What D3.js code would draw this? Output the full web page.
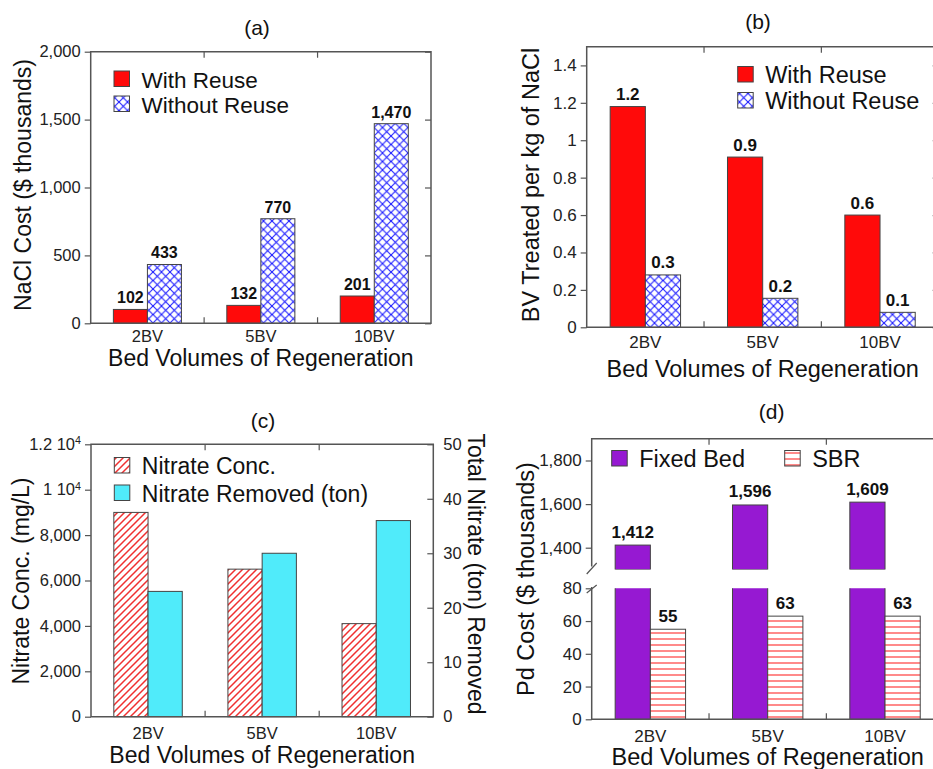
<!DOCTYPE html>
<html>
<head>
<meta charset="utf-8">
<script src="https://cdn.jsdelivr.net/npm/d3@7"></script>
<style>
  body { margin: 0; background: #fff; }
  svg { display: block; font-family: "Liberation Sans", Arial, sans-serif; }
  .axis path.domain { display: none; }
  .axis line { stroke: #555; stroke-width: 1.2; }
  .axis text { fill: #222; }
</style>
</head>
<body>
<svg id="chart" width="933" height="769"></svg>
<script>
const categories = ["2BV", "5BV", "10BV"];

// (a) NaCl cost, $ thousands
const naclWithReuse = [102, 132, 201];
const naclWithoutReuse = [433, 770, 1470];
const naclTicks = [0, 500, 1000, 1500, 2000];

// (b) BV treated per kg of NaCl
const bvWithReuse = [1.18, 0.91, 0.6];
const bvWithoutReuse = [0.28, 0.155, 0.08];
const bvTicks = [0, 0.2, 0.4, 0.6, 0.8, 1, 1.2, 1.4];

// (c) nitrate concentration (mg/L) and nitrate removed (ton)
const nitrateConc = [9000, 6500, 4100];
const nitrateRemoved = [23, 30, 36];
const concTicks = [0, 2000, 4000, 6000, 8000, 10000, 12000];
const removedTicks = [0, 10, 20, 30, 40, 50];

// (d) Pd cost, $ thousands (broken axis)
const pdFixedBed = [1412, 1596, 1609];
const pdSBR = [55, 63, 63];
const pdUpperTicks = [1400, 1600, 1800];
const pdLowerTicks = [0, 20, 40, 60, 80];

const RED = "#ff0a0a", CYAN = "#50ebfa", PURPLE = "#9619d2";
const svg = d3.select("#chart");
const defs = svg.append("defs");

// fill patterns
let p = defs.append("pattern").attr("id", "xhatch").attr("patternUnits", "userSpaceOnUse")
  .attr("width", 8.5).attr("height", 8.5);
p.append("rect").attr("width", 8.5).attr("height", 8.5).attr("fill", "#fff");
p.append("path").attr("d", "M0,0L8.5,8.5M8.5,0L0,8.5").attr("stroke", "#1a1aff").attr("stroke-width", 1.1);

p = defs.append("pattern").attr("id", "diag").attr("patternUnits", "userSpaceOnUse")
  .attr("width", 7).attr("height", 7);
p.append("rect").attr("width", 7).attr("height", 7).attr("fill", "#fff");
p.append("path").attr("d", "M0,7L7,0M-1,1L1,-1M6,8L8,6").attr("stroke", "#f03030").attr("stroke-width", 1.5);

p = defs.append("pattern").attr("id", "hlines").attr("patternUnits", "userSpaceOnUse")
  .attr("width", 8).attr("height", 6);
p.append("rect").attr("width", 8).attr("height", 6).attr("fill", "#fff");
p.append("line").attr("x1", 0).attr("x2", 8).attr("y1", 3).attr("y2", 3)
  .attr("stroke", "#ff2a2a").attr("stroke-width", 1.1);

function band(left, step) {
  return d3.scaleBand().domain(categories).range([left, left + step * categories.length]);
}

function bars(g, x, y, values, offset, fill, base) {
  const bw = x.bandwidth();
  g.append("g").selectAll("rect").data(values).join("rect")
    .attr("x", (d, i) => x(categories[i]) + bw * offset)
    .attr("width", bw * 0.3)
    .attr("y", d => y(d))
    .attr("height", d => y(base) - y(d))
    .attr("fill", fill)
    .attr("stroke", "#444").attr("stroke-width", 1);
}

function valueLabels(g, x, y, values, offset, fmt, size, gap) {
  const bw = x.bandwidth();
  g.append("g").selectAll("text").data(values).join("text")
    .attr("x", (d, i) => x(categories[i]) + bw * (offset + 0.15))
    .attr("y", d => y(d) - gap)
    .attr("text-anchor", "middle")
    .attr("font-size", size).attr("font-weight", "bold").attr("fill", "#111")
    .text(fmt);
}

function frame(g, x0, x1, y0, y1) {
  g.append("path")
    .attr("d", `M${x0},${y0}H${x1}V${y1}H${x0}Z`)
    .attr("fill", "none").attr("stroke", "#555").attr("stroke-width", 1.5);
}

function catTicks(g, x, yTop, yBot) {
  const b = categories.slice(1).map(c => x(c));
  g.append("g").selectAll("path").data(b).join("path")
    .attr("d", d => `M${d},${yTop}v6M${d},${yBot}v-6`)
    .attr("stroke", "#555").attr("stroke-width", 1.2);
}

function xLabels(g, x, baseline, size, labelBaseline, labelSize) {
  g.append("g").selectAll("text").data(categories).join("text")
    .attr("x", d => x(d) + x.bandwidth() / 2)
    .attr("y", baseline)
    .attr("text-anchor", "middle").attr("font-size", size).attr("fill", "#222")
    .text(d => d);
  const r = x.range();
  g.append("text")
    .attr("x", (r[0] + r[1]) / 2).attr("y", labelBaseline)
    .attr("text-anchor", "middle").attr("font-size", labelSize).attr("fill", "#111")
    .text("Bed Volumes of Regeneration");
}

function yLabel(g, cx, cy, text, size, angle) {
  g.append("text")
    .attr("transform", `translate(${cx},${cy}) rotate(${angle})`)
    .attr("text-anchor", "middle").attr("dy", "0.35em")
    .attr("font-size", size).attr("fill", "#111")
    .text(text);
}

function title(g, cx, cy, text) {
  g.append("text").attr("x", cx).attr("y", cy).attr("dy", "0.35em")
    .attr("text-anchor", "middle").attr("font-size", 21).attr("fill", "#111")
    .text(text);
}

function legend(g, items, size) {
  items.forEach(it => {
    g.append("rect").attr("x", it.x).attr("y", it.y).attr("width", 15.5).attr("height", 15.5)
      .attr("fill", it.fill).attr("stroke", "#444").attr("stroke-width", 1);
    g.append("text").attr("x", it.x + 27.5).attr("y", it.y + 16.5)
      .attr("font-size", size).attr("fill", "#111").text(it.label);
  });
}

function leftAxis(g, y, x0, ticks, fmt, size) {
  g.append("g").attr("class", "axis").attr("transform", `translate(${x0},0)`)
    .call(d3.axisLeft(y).tickValues(ticks).tickFormat(fmt).tickSize(6).tickPadding(4))
    .selectAll("text").attr("font-size", size).attr("font-family", null);
}

function mirrorTicks(g, y, x1, ticks) {
  g.append("g").attr("class", "axis").attr("transform", `translate(${x1},0)`)
    .call(d3.axisLeft(y).tickValues(ticks).tickFormat("").tickSize(6));
}

// ---------- (a) ----------
{
  const g = svg.append("g");
  const x = band(90.7, 113.43);
  const y = d3.scaleLinear().domain([0, 2000]).range([323.3, 51.7]);
  bars(g, x, y, naclWithReuse, 0.2, RED, 0);
  bars(g, x, y, naclWithoutReuse, 0.5, "url(#xhatch)", 0);
  valueLabels(g, x, y, naclWithReuse, 0.2, d3.format(","), 16, 6);
  valueLabels(g, x, y, naclWithoutReuse, 0.5, d3.format(","), 16, 6);
  frame(g, 90.7, 431, 51.7, 323.3);
  catTicks(g, x, 51.7, 323.3);
  leftAxis(g, y, 90.7, naclTicks, d3.format(","), 16.5);
  mirrorTicks(g, y, 431, naclTicks);
  xLabels(g, x, 342, 16.5, 366, 23);
  yLabel(g, 23, 185, "NaCl Cost ($ thousands)", 23, -90);
  title(g, 257, 28, "(a)");
  legend(g, [
    { x: 114, y: 71, fill: RED, label: "With Reuse" },
    { x: 114, y: 96, fill: "url(#xhatch)", label: "Without Reuse" }
  ], 22.5);
}

// ---------- (b) ----------
{
  const g = svg.append("g");
  const x = band(586.7, 117.33);
  const y = d3.scaleLinear().domain([0, 1.5]).range([327.3, 46.7]);
  bars(g, x, y, bvWithReuse, 0.2, RED, 0);
  bars(g, x, y, bvWithoutReuse, 0.5, "url(#xhatch)", 0);
  valueLabels(g, x, y, bvWithReuse, 0.2, d3.format(".1f"), 17, 6.5);
  valueLabels(g, x, y, bvWithoutReuse, 0.5, d3.format(".1f"), 17, 6.5);
  frame(g, 586.7, 938.7, 46.7, 327.3);
  catTicks(g, x, 46.7, 327.3);
  leftAxis(g, y, 586.7, bvTicks, d => String(+d.toFixed(1)), 17);
  mirrorTicks(g, y, 938.7, bvTicks);
  xLabels(g, x, 348.3, 17, 376.7, 23.5);
  yLabel(g, 531, 185, "BV Treated per kg of NaCl", 23.5, -90);
  title(g, 758, 22, "(b)");
  legend(g, [
    { x: 737.7, y: 66.5, fill: RED, label: "With Reuse" },
    { x: 737.7, y: 92.5, fill: "url(#xhatch)", label: "Without Reuse" }
  ], 23.5);
}

// ---------- (c) ----------
{
  const g = svg.append("g");
  const x = band(91, 114.1);
  const yL = d3.scaleLinear().domain([0, 12000]).range([716.7, 444.3]);
  const yR = d3.scaleLinear().domain([0, 50]).range([716.7, 444.3]);
  bars(g, x, yL, nitrateConc, 0.2, "url(#diag)", 0);
  bars(g, x, yR, nitrateRemoved, 0.5, CYAN, 0);
  frame(g, 91, 433.3, 444.3, 716.7);
  catTicks(g, x, 444.3, 716.7);
  const ax = g.append("g").attr("class", "axis").attr("transform", "translate(91,0)")
    .call(d3.axisLeft(yL).tickValues(concTicks).tickSize(6).tickPadding(4)
      .tickFormat(d => d >= 10000 ? "" : d3.format(",")(d)));
  ax.selectAll("text").attr("font-size", 16.5).attr("font-family", null)
    .each(function (d) {
      if (d < 10000) return;
      const t = d3.select(this);
      t.append("tspan").text(`${d / 10000} 10`);
      t.append("tspan").attr("dy", "-0.55em").attr("font-size", "0.65em").text("4");
    });
  g.append("g").attr("class", "axis").attr("transform", "translate(433.3,0)")
    .call(d3.axisRight(yR).tickValues(removedTicks).tickSize(-6).tickPadding(10))
    .selectAll("text").attr("font-size", 16.5).attr("font-family", null);
  xLabels(g, x, 739, 16.5, 762.7, 23);
  yLabel(g, 21, 581, "Nitrate Conc. (mg/L)", 23, -90);
  yLabel(g, 476, 574, "Total Nitrate (ton) Removed", 23, 90);
  title(g, 263, 421, "(c)");
  legend(g, [
    { x: 114.3, y: 457.5, fill: "url(#diag)", label: "Nitrate Conc." },
    { x: 114.3, y: 485, fill: CYAN, label: "Nitrate Removed (ton)" }
  ], 23);
}

// ---------- (d) ----------
{
  const g = svg.append("g");
  const left = 591.7, right = 943.7, top = 438.7, bottom = 719.3;
  const x = band(left, 117.33);
  const yUp = d3.scaleLinear().domain([1300, 1900]).range([569.5, top]);
  const yLo = d3.scaleLinear().domain([0, 80]).range([bottom, 588.3]);

  defs.append("clipPath").attr("id", "clipUp").append("rect")
    .attr("x", left).attr("y", yUp.range()[1]).attr("width", right - left)
    .attr("height", yUp.range()[0] - yUp.range()[1]);
  defs.append("clipPath").attr("id", "clipLo").append("rect")
    .attr("x", left).attr("y", yLo.range()[1]).attr("width", right - left)
    .attr("height", yLo.range()[0] - yLo.range()[1]);

  const up = g.append("g").attr("clip-path", "url(#clipUp)");
  bars(up, x, yUp, pdFixedBed, 0.2, PURPLE, 1300);
  const lo = g.append("g").attr("clip-path", "url(#clipLo)");
  bars(lo, x, yLo, pdFixedBed, 0.2, PURPLE, 0);
  bars(lo, x, yLo, pdSBR, 0.5, "url(#hlines)", 0);
  valueLabels(g, x, yUp, pdFixedBed, 0.2, d3.format(","), 17, 7.5);
  valueLabels(g, x, yLo, pdSBR, 0.5, d3.format(","), 17, 7.5);

  // box with a break on the left axis
  g.append("path")
    .attr("d", `M${left},566.5V${top}H${right}M${left},587V${bottom}H${right}`)
    .attr("fill", "none").attr("stroke", "#555").attr("stroke-width", 1.5);
  g.append("path")
    .attr("d", `M${left - 5},574L${left + 5},563M${left - 5},593L${left + 5},585`)
    .attr("fill", "none").attr("stroke", "#555").attr("stroke-width", 1.2);
  catTicks(g, x, top, bottom);
  leftAxis(g, yUp, left, pdUpperTicks, d3.format(","), 17);
  leftAxis(g, yLo, left, pdLowerTicks, d3.format(","), 17);
  xLabels(g, x, 741.7, 17, 765, 23.5);
  yLabel(g, 526, 579, "Pd Cost ($ thousands)", 23.5, -90);
  title(g, 771.7, 411.7, "(d)");
  legend(g, [
    { x: 611.7, y: 450.5, fill: PURPLE, label: "Fixed Bed" },
    { x: 784.7, y: 450.5, fill: "url(#hlines)", label: "SBR" }
  ], 23.5);
}
</script>
</body>
</html>
